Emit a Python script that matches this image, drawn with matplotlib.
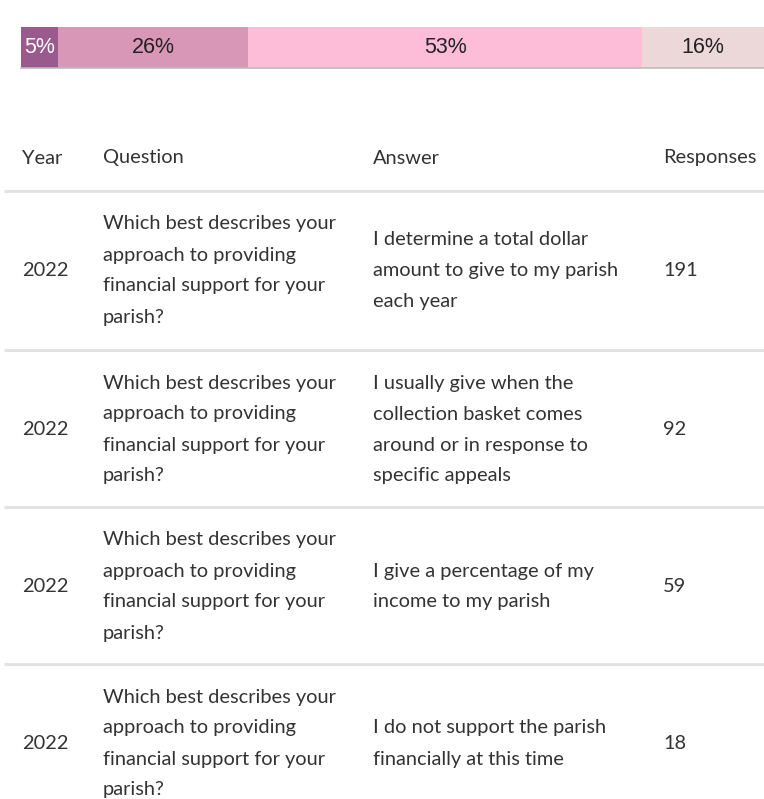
import matplotlib
matplotlib.use("Agg")
import matplotlib.pyplot as plt

# survey data
year = 2022
question = "Which best describes your\napproach to providing\nfinancial support for your\nparish?"
answers = [
    "I determine a total dollar\namount to give to my parish\neach year",
    "I usually give when the\ncollection basket comes\naround or in response to\nspecific appeals",
    "I give a percentage of my\nincome to my parish",
    "I do not support the parish\nfinancially at this time",
]
responses = [191, 92, 59, 18]

# order of the segments in the stacked bar (indices into answers)
bar_order = [3, 1, 0, 2]
bar_colors = ["#9b5a8e", "#d897b7", "#fdbcd7", "#ecd8d9"]
bar_text_colors = ["white", "#222222", "#222222", "#222222"]

headers = ["Year", "Question", "Answer", "Responses"]

W, H = 764, 799
fig = plt.figure(figsize=(W / 100, H / 100), dpi=100)

# --- stacked percentage bar ---
bx = fig.add_axes([21 / W, 1 - 68 / H, 743 / W, 41 / H])
total = sum(responses)
left = 0
for k, idx in enumerate(bar_order):
    v = responses[idx]
    bx.barh(0, v, left=left, height=1, color=bar_colors[k], linewidth=0)
    bx.text(left + v / 2, 0, f"{round(v / total * 100)}%", ha="center", va="center",
            fontsize=15.5, family="Liberation Sans", color=bar_text_colors[k])
    left += v
bx.set_xlim(0, total)
bx.set_ylim(-0.5, 0.5)
bx.set_xticks([])
bx.set_yticks([])
for s in ["top", "left", "right"]:
    bx.spines[s].set_visible(False)
bx.spines["bottom"].set_color("#bbbbbb")
bx.spines["bottom"].set_linewidth(1.2)

# --- table drawn in pixel coordinates ---
ax = fig.add_axes([0, 0, 1, 1])
ax.set_xlim(0, W)
ax.set_ylim(H, 0)
ax.axis("off")

txt = dict(fontsize=14.4, family="Lato", color="#333333", va="center")
col_x = [22, 103, 373, 663]
pitch = 31

for x, h in zip(col_x, headers):
    ax.text(x, 158, h, **txt)

line_y = [191, 350, 507, 664]
ax.hlines(line_y, 4, W, color="#e3e3e3", linewidth=2.2)


def multiline(x, yc, s):
    lines = s.split("\n")
    y0 = yc - (len(lines) - 1) * pitch / 2
    for i, ln in enumerate(lines):
        ax.text(x, y0 + i * pitch, ln, **txt)


row_h = 157
for r, (ans, n) in enumerate(zip(answers, responses)):
    yc = line_y[r] + row_h / 2 + 1
    ax.text(col_x[0], yc, str(year), **txt)
    multiline(col_x[1], yc, question)
    multiline(col_x[2], yc, ans)
    ax.text(col_x[3], yc, str(n), **txt)

fig.savefig("out.png", dpi=100)
